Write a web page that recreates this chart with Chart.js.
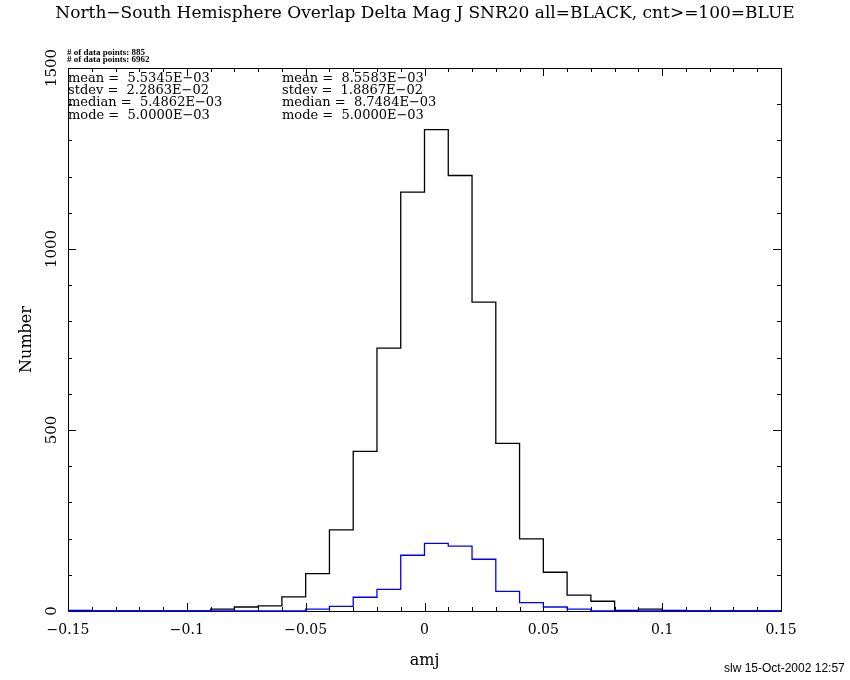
<!DOCTYPE html>
<html>
<head>
<meta charset="utf-8">
<script src="https://cdn.jsdelivr.net/npm/chart.js@4.4.1/dist/chart.umd.min.js"></script>
<style>
  html, body { margin: 0; padding: 0; background: #fff; }
  #wrap { width: 850px; height: 680px; }
</style>
</head>
<body>
<div id="wrap"><canvas id="hist" width="850" height="680"></canvas></div>
<script>
// left edge of every 0.01 wide bin
const binStart = [-0.15, -0.14, -0.13, -0.12, -0.11, -0.10, -0.09, -0.08, -0.07, -0.06,
                  -0.05, -0.04, -0.03, -0.02, -0.01, 0.00, 0.01, 0.02, 0.03, 0.04,
                  0.05, 0.06, 0.07, 0.08, 0.09, 0.10, 0.11, 0.12, 0.13, 0.14];
const binWidth = 0.01;

// all objects (black)
const countAll = [2, 0, 0, 0, 0, 0, 5, 11, 14, 39,
                  103, 224, 441, 726, 1157, 1330, 1203, 853, 463, 199,
                  107, 44, 27, 2, 5, 2, 0, 0, 0, 0];
// cnt>=100 (blue)
const countBlue = [0, 0, 0, 0, 0, 0, 0, 0, 0, 0,
                   5, 13, 38, 60, 154, 187, 179, 143, 54, 23,
                   11, 5, 0, 0, 0, 0, 0, 0, 0, 0];

const xTicks = [-0.15, -0.1, -0.05, 0, 0.05, 0.1, 0.15];
const xTickLabels = ['\u22120.15', '\u22120.1', '\u22120.05', '0', '0.05', '0.1', '0.15'];
const yTicks = [0, 500, 1000, 1500];
const yTickLabels = ['0', '500', '1000', '1500'];

const titleText = 'North\u2212South Hemisphere Overlap Delta Mag J SNR20 all=BLACK, cnt>=100=BLUE';
const nPointsText = ['# of data points: 885', '# of data points: 6962'];
const statsAll = ['mean =  5.5345E\u221203', 'stdev =  2.2863E\u221202', 'median =  5.4862E\u221203', 'mode =  5.0000E\u221203'];
const statsBlue = ['mean =  8.5583E\u221203', 'stdev =  1.8867E\u221202', 'median =  8.7484E\u221203', 'mode =  5.0000E\u221203'];
const xTitle = 'amj';
const yTitle = 'Number';
const stamp = 'slw 15-Oct-2002 12:57';

function stepPoints(counts) {
  const pts = binStart.map((x, i) => ({ x: x, y: counts[i] }));
  pts.push({ x: binStart[binStart.length - 1] + binWidth, y: 0 });
  return pts;
}

const SERIF = '"DejaVu Serif", serif';

const frame = {
  id: 'frame',
  beforeDatasetsDraw(chart) {
    const { ctx, chartArea: a, scales: { x, y } } = chart;
    ctx.save();
    ctx.strokeStyle = '#000';
    ctx.lineWidth = 1;
    ctx.strokeRect(a.left + 0.5, a.top + 0.5, a.right - a.left, a.bottom - a.top);

    ctx.beginPath();
    for (let v = -150; v <= 150; v += 10) {
      const px = Math.round(x.getPixelForValue(v / 1000)) + 0.5;
      const len = v % 50 === 0 ? 8 : 4;
      ctx.moveTo(px, a.bottom); ctx.lineTo(px, a.bottom - len);
      ctx.moveTo(px, a.top); ctx.lineTo(px, a.top + len);
    }
    for (let v = 0; v <= 1500; v += 100) {
      const py = Math.round(y.getPixelForValue(v)) + 0.5;
      const len = v % 500 === 0 ? 8 : 4;
      ctx.moveTo(a.left, py); ctx.lineTo(a.left + len, py);
      ctx.moveTo(a.right, py); ctx.lineTo(a.right - len, py);
    }
    ctx.stroke();

    ctx.fillStyle = '#000';
    // x tick labels
    ctx.font = '14px ' + SERIF;
    ctx.textAlign = 'center';
    ctx.textBaseline = 'middle';
    xTicks.forEach((v, i) => ctx.fillText(xTickLabels[i], x.getPixelForValue(v), 630));
    // y tick labels, rotated
    yTicks.forEach((v, i) => {
      ctx.save();
      ctx.translate(52, y.getPixelForValue(v));
      ctx.rotate(-Math.PI / 2);
      ctx.font = '15px ' + SERIF;
      ctx.fillText(yTickLabels[i], 0, 0);
      ctx.restore();
    });

    // axis titles
    ctx.font = '16px ' + SERIF;
    ctx.fillText(xTitle, (a.left + a.right) / 2, 661);
    ctx.save();
    ctx.translate(27, (a.top + a.bottom) / 2);
    ctx.rotate(-Math.PI / 2);
    ctx.fillText(yTitle, 0, 0);
    ctx.restore();

    // title
    ctx.font = '17px ' + SERIF;
    ctx.fillText(titleText, 425, 14);

    // stats
    ctx.textAlign = 'left';
    ctx.textBaseline = 'alphabetic';
    ctx.font = 'bold 9px "Liberation Serif", serif';
    ctx.fillText(nPointsText[0], 67, 55);
    ctx.fillText(nPointsText[1], 67, 62);
    ctx.font = '13px ' + SERIF;
    statsAll.forEach((t, i) => ctx.fillText(t, 68, 81.5 + i * 12.4));
    statsBlue.forEach((t, i) => ctx.fillText(t, 282, 81.5 + i * 12.4));

    ctx.font = '12px "Liberation Sans", sans-serif';
    ctx.fillText(stamp, 724, 672);
    ctx.restore();
  }
};

new Chart(document.getElementById('hist'), {
  type: 'line',
  data: {
    datasets: [
      {
        label: 'cnt>=100',
        data: stepPoints(countBlue),
        borderColor: '#0000ff',
        borderWidth: 1.3,
        stepped: 'before',
        pointRadius: 0,
        fill: false,
        clip: 3,
        order: 1
      },
      {
        label: 'all',
        data: stepPoints(countAll),
        borderColor: '#000000',
        borderWidth: 1.3,
        stepped: 'before',
        pointRadius: 0,
        fill: false,
        clip: 3,
        order: 2
      }
    ]
  },
  plugins: [frame],
  options: {
    responsive: false,
    animation: false,
    devicePixelRatio: 1,
    layout: { padding: { left: 68, top: 68, right: 69, bottom: 69 } },
    plugins: { legend: { display: false }, tooltip: { enabled: false } },
    scales: {
      x: { type: 'linear', min: -0.15, max: 0.15, display: false },
      y: { type: 'linear', min: 0, max: 1500, display: false }
    }
  }
});
</script>
</body>
</html>
